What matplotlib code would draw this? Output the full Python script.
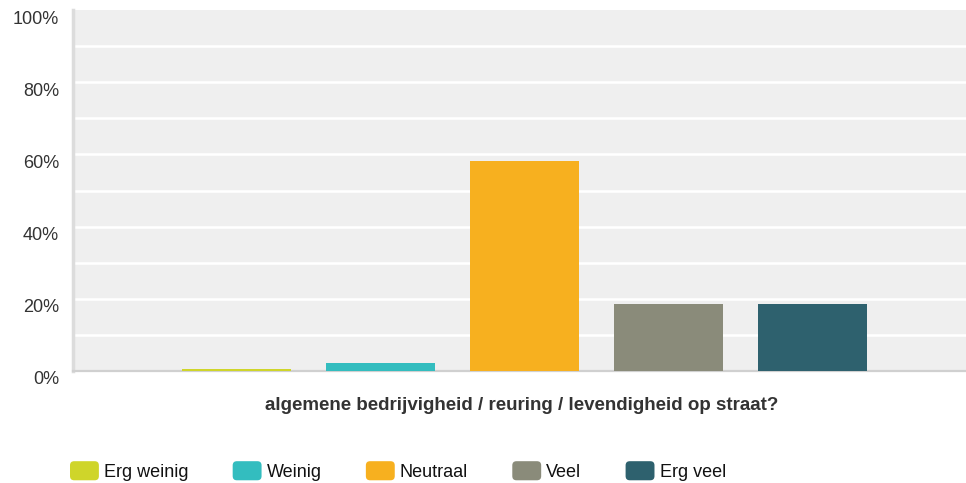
import numpy as np
import matplotlib
matplotlib.use('Agg')
import matplotlib.pyplot as plt
import matplotlib.transforms as mtransforms
from matplotlib.patches import FancyBboxPatch
from matplotlib.legend_handler import HandlerPatch

# Data
categorieen = ['Erg weinig', 'Weinig', 'Neutraal', 'Veel', 'Erg veel']
percentages = [0.6, 2.2, 58.1, 18.5, 18.5]
kleuren = ['#cfd52a', '#33bdbf', '#f7b01f', '#8a8b7a', '#2e616e']
y_ticks = [0, 20, 40, 60, 80, 100]
y_labels = ['0%', '20%', '40%', '60%', '80%', '100%']
x_titel = 'algemene bedrijvigheid / reuring / levendigheid op straat?'

plt.rcParams['font.family'] = ['Liberation Sans', 'DejaVu Sans']

fig = plt.figure(figsize=(9.66, 4.83), dpi=100)
ax = fig.add_axes([73 / 966, 1 - 371 / 483, 893 / 966, 361 / 483])
ax.set_facecolor('#efefef')

x = np.arange(len(categorieen))
ax.bar(x, percentages, width=0.757, color=kleuren, zorder=3)

ax.set_xlim(-1.135, 5.066)
ax.set_ylim(0, 100)

# grid lines every 10%
for g in range(10, 100, 10):
    ax.axhline(g, color='white', lw=1.8, zorder=1)

ax.set_yticks(y_ticks)
ax.set_yticklabels(y_labels, fontsize=13, color='#333333')
ax.tick_params(axis='y', length=0, pad=10)
ax.tick_params(axis='x', length=0, labelbottom=False)
offset = mtransforms.ScaledTranslation(0, -7 / 100, fig.dpi_scale_trans)
for lbl in ax.get_yticklabels():
    lbl.set_transform(lbl.get_transform() + offset)

for kant in ['top', 'right']:
    ax.spines[kant].set_visible(False)
ax.spines['left'].set_color('#dcdcdc')
ax.spines['left'].set_linewidth(2.5)
ax.spines['bottom'].set_color('#d0d0d0')
ax.spines['bottom'].set_linewidth(1.6)

fig.text(522 / 966, 1 - 405 / 483, x_titel, ha='center', va='center',
         fontsize=13.5, fontweight='bold', color='#333333')


# legenda met afgeronde vierkantjes
class RondHandler(HandlerPatch):
    def create_artists(self, legend, orig_handle, xdescent, ydescent,
                       width, height, fontsize, trans):
        p = FancyBboxPatch((-xdescent, -ydescent), width, height,
                           boxstyle='round,pad=0,rounding_size=3',
                           facecolor=orig_handle.get_facecolor(),
                           edgecolor='none', transform=trans)
        return [p]


handles = [plt.Rectangle((0, 0), 1, 1, facecolor=k) for k in kleuren]
fig.legend(handles, categorieen, loc='center left',
           bbox_to_anchor=(70 / 966, 1 - 471 / 483), ncol=5, frameon=False,
           fontsize=13, handlelength=1.6, handleheight=1.25,
           handletextpad=0.28, columnspacing=2.45, borderpad=0,
           borderaxespad=0, labelcolor='#111111',
           handler_map={plt.Rectangle: RondHandler()})

fig.savefig('out.png', dpi=100)
